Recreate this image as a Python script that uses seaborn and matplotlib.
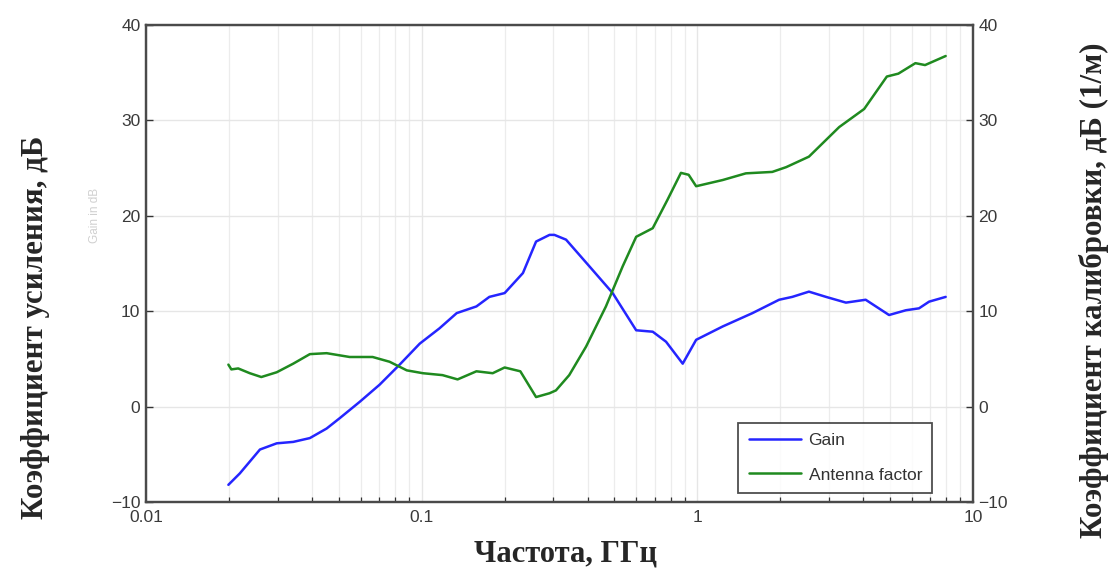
import numpy as np
import pandas as pd
import matplotlib
matplotlib.use("Agg")
import matplotlib.pyplot as plt
import seaborn as sns
from matplotlib.ticker import LogLocator, FixedLocator, NullFormatter

# ---- data ----
gain_freq = [0.0199, 0.0219, 0.0259, 0.0298, 0.0342, 0.0393, 0.0452, 0.0505, 0.0596, 0.0704,
             0.0832, 0.0984, 0.116, 0.134, 0.158, 0.176, 0.2, 0.233, 0.26, 0.291, 0.303,
             0.334, 0.406, 0.493, 0.6, 0.689, 0.77, 0.885, 0.99, 1.236, 1.585, 1.98, 2.21,
             2.54, 2.93, 3.46, 4.08, 4.96, 5.71, 6.37, 6.93, 7.96]
gain_db = [-8.2, -7.0, -4.5, -3.85, -3.7, -3.3, -2.3, -1.2, 0.5, 2.3,
           4.4, 6.6, 8.2, 9.8, 10.5, 11.5, 11.9, 14.0, 17.3, 18.0, 18.0,
           17.5, 14.7, 11.9, 8.0, 7.85, 6.8, 4.5, 7.0, 8.4, 9.8, 11.2, 11.5,
           12.05, 11.5, 10.9, 11.2, 9.6, 10.1, 10.3, 11.0, 11.5]

af_freq = [0.0199, 0.0204, 0.0216, 0.0238, 0.0262, 0.0298, 0.0342, 0.0393, 0.0452, 0.0548,
           0.0664, 0.0765, 0.0883, 0.101, 0.119, 0.135, 0.158, 0.181, 0.2, 0.228, 0.26,
           0.291, 0.307, 0.343, 0.395, 0.466, 0.536, 0.6, 0.689, 0.78, 0.872, 0.93, 0.99,
           1.236, 1.5, 1.87, 2.1, 2.54, 3.27, 4.03, 4.87, 5.36, 6.18, 6.7, 7.96]
af_db = [4.4, 3.9, 4.0, 3.5, 3.1, 3.6, 4.5, 5.5, 5.6, 5.2,
         5.2, 4.7, 3.8, 3.5, 3.3, 2.85, 3.7, 3.5, 4.1, 3.7, 1.0,
         1.4, 1.7, 3.3, 6.3, 10.5, 14.7, 17.8, 18.7, 21.7, 24.5, 24.3, 23.1,
         23.75, 24.45, 24.6, 25.1, 26.2, 29.3, 31.2, 34.6, 34.9, 36.0, 35.8, 36.75]

x_ticks = [0.01, 0.1, 1, 10]
x_tick_labels = ["0.01", "0.1", "1", "10"]
y_ticks = [-10, 0, 10, 20, 30, 40]

gain_label = "Gain"
af_label = "Antenna factor"
xlabel = "Частота, ГГц"
ylabel_left = "Коэффициент усиления, дБ"
ylabel_right = "Коэффициент калибровки, дБ (1/м)"
ghost_label = "Gain in dB"

# ---- plot ----
sns.set_theme(style="white")
plt.rcParams["font.family"] = ["Liberation Sans", "DejaVu Sans"]

fig = plt.figure(figsize=(11.17, 5.73), dpi=100)
ax = fig.add_axes([146 / 1117, 1 - 502 / 573, (973 - 146) / 1117, (502 - 25) / 573])
ax2 = ax.twinx()

blue = "#2525ff"
green = "#1f8a1f"

df_g = pd.DataFrame({"f": gain_freq, "v": gain_db})
df_a = pd.DataFrame({"f": af_freq, "v": af_db})
sns.lineplot(data=df_g, x="f", y="v", ax=ax, color=blue, lw=1.8, label=gain_label, legend=False)
sns.lineplot(data=df_a, x="f", y="v", ax=ax2, color=green, lw=1.8, label=af_label, legend=False)

for a in (ax, ax2):
    a.set_xscale("log")
    a.set_xlim(0.01, 10)
    a.set_ylim(-10, 40)
    a.set_yticks(y_ticks)
    a.set_xlabel("")
    a.set_ylabel("")

ax.xaxis.set_major_locator(FixedLocator(x_ticks))
ax.set_xticklabels(x_tick_labels)
ax.xaxis.set_minor_locator(LogLocator(base=10, subs=np.arange(2, 10)))
ax.xaxis.set_minor_formatter(NullFormatter())

ax.grid(True, which="major", color="#e6e6e6", lw=1.0)
ax.grid(True, which="minor", axis="x", color="#ececec", lw=0.9)
ax.set_axisbelow(True)

tick_col = "#3a3a3a"
ax.tick_params(axis="both", which="major", direction="in", length=5, width=1.0,
               colors="#333333", labelsize=12.5, labelcolor=tick_col, top=False, pad=4)
ax.tick_params(axis="x", which="minor", direction="in", length=3.5, width=0.9,
               colors="#333333", top=False, bottom=True)
ax.tick_params(axis="x", which="major", pad=6)
ax2.tick_params(axis="y", which="major", direction="in", length=5, width=1.0,
                colors="#333333", labelsize=12.5, labelcolor=tick_col, pad=4)

for a in (ax, ax2):
    for s in a.spines.values():
        s.set_color("#4a4a4a")
        s.set_linewidth(1.6)

# legend
handles = ax.get_lines()[:1] + ax2.get_lines()[:1]
leg = ax2.legend(handles, [gain_label, af_label], loc="lower right",
                 bbox_to_anchor=(0.951, 0.019), frameon=True, fancybox=False,
                 fontsize=12.5, handlelength=3.0, borderpad=0.6, labelspacing=1.1,
                 handletextpad=0.45, borderaxespad=0.0)
leg.get_frame().set_edgecolor("#222222")
leg.get_frame().set_linewidth(1.3)
for t in leg.get_texts():
    t.set_color("#333333")

serif = ["Liberation Serif", "DejaVu Serif"]
fig.text(36 / 1117, 1 - 327 / 573, ylabel_left, rotation=90, ha="center", va="center",
         fontsize=22.3, fontweight="bold", family=serif)
fig.text(1094 / 1117, 1 - 290 / 573, ylabel_right, rotation=90, ha="center", va="center",
         fontsize=22.3, fontweight="bold", family=serif)
fig.text(566 / 1117, 1 - 554 / 573, xlabel, ha="center", va="center",
         fontsize=22, fontweight="bold", family=serif)
fig.text(95 / 1117, 1 - 215 / 573, ghost_label, rotation=90, ha="center", va="center",
         fontsize=8.5, color="#d0d0d0")

fig.savefig("out.png", dpi=100)
